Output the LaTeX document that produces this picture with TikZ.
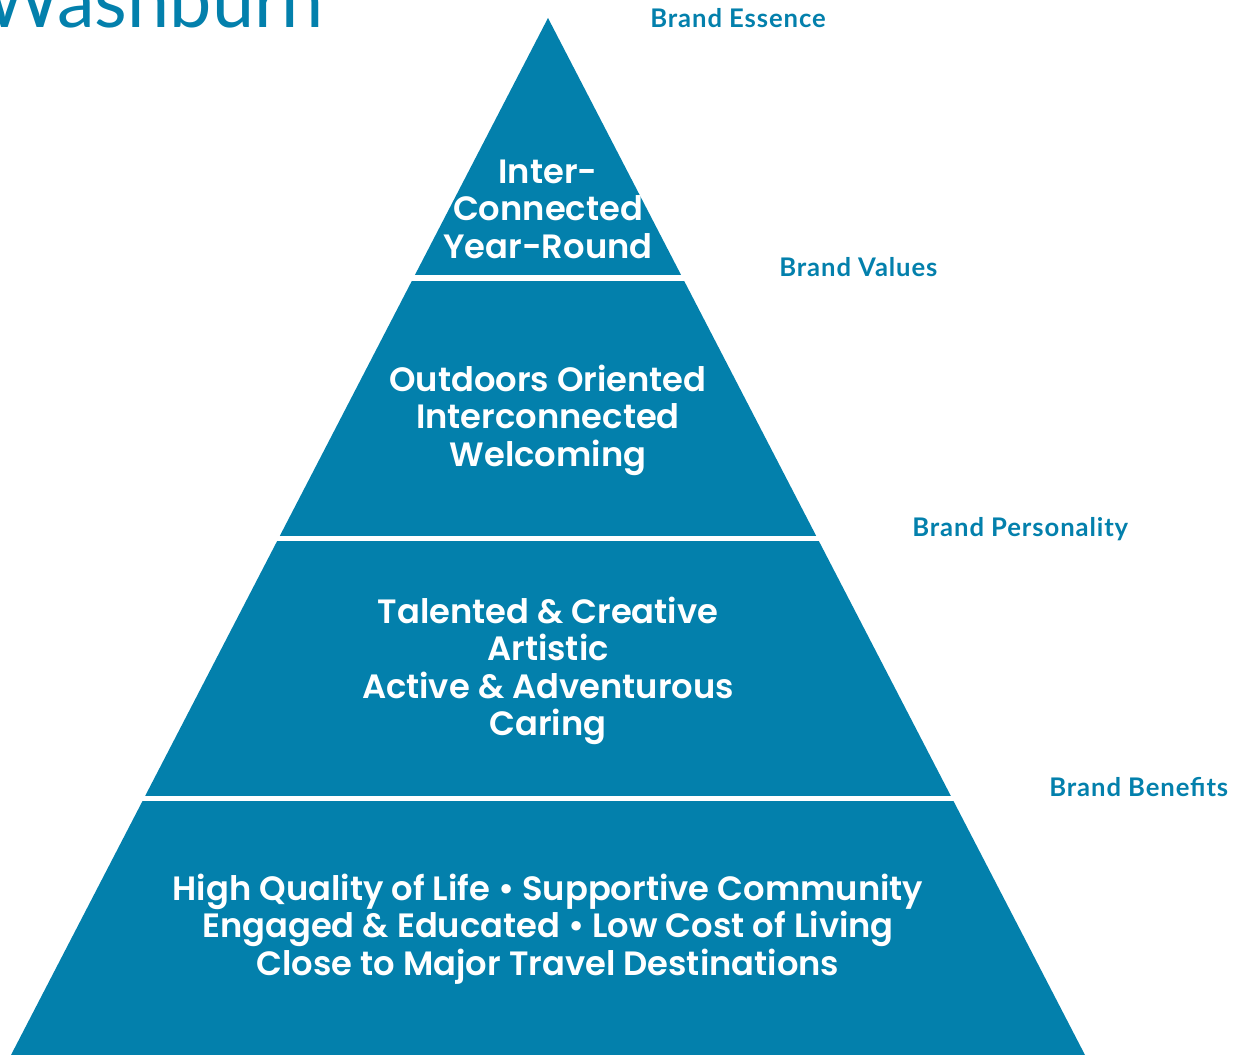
\documentclass[tikz,border=0pt]{standalone}
\usepackage{fontspec}
\setmainfont{Poppins}[UprightFont=* SemiBold]
\newfontfamily\labelfont{Lato}[UprightFont=* Bold, LetterSpace=3.5]
\newfontfamily\titlefont{Lato}
\definecolor{washblue}{HTML}{0380AC}
\tikzset{
  tier/.style={text=white, align=center, font=\fontsize{19.2}{21.3}\selectfont},
  level/.style={text=washblue, anchor=base west, inner sep=0pt, font=\labelfont\fontsize{14.6}{16}\selectfont}
}

\begin{document}
\begin{tikzpicture}[x=0.2mm, y=-0.2mm]
\useasboundingbox (0,0) rectangle (1245,1055);
\clip (0,0) rectangle (1245,1055);

% pyramid and the white gaps between tiers
\fill[washblue] (548,18) -- (1085,1055) -- (11,1055) -- cycle;
\foreach \y in {278,538.5,798.5}
  \draw[white, line width=1mm] (0,\y) -- (1245,\y);

\node[text=washblue, anchor=base west, inner sep=0pt, font=\titlefont\fontsize{43}{48}\selectfont] (title) at (-17,28) {Washburn};

\node[tier] (essence) at (548,209) {Inter-\\Connected\\Year-Round};
\node[tier] (values) at (548,420) {Outdoors Oriented\\Interconnected\\Welcoming};
\node[tier] (personality) at (548,671) {Talented \& Creative\\Artistic\\Active \& Adventurous\\Caring};
\node[tier] (benefits) at (548,929) {High Quality of Life • Supportive Community\\Engaged \& Educated • Low Cost of Living\\Close to Major Travel Destinations};

\node[level] (essence label) at (650,28) {Brand Essence};
\node[level] (values label) at (779,276) {Brand Values};
\node[level] (personality label) at (912,536) {Brand Personality};
\node[level] (benefits label) at (1049,796) {Brand Benefits};
\end{tikzpicture}
\end{document}
